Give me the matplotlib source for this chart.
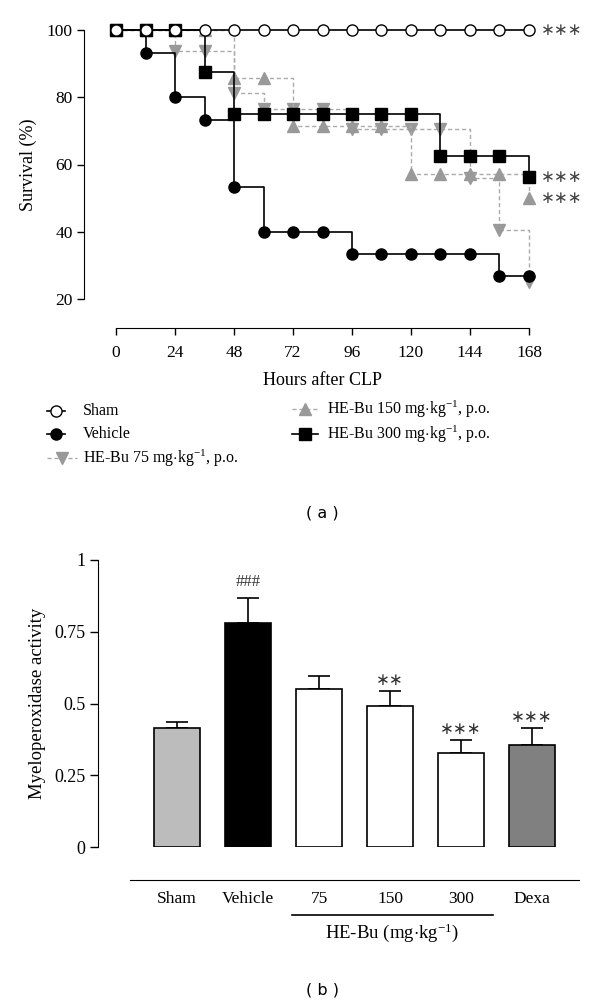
import matplotlib
matplotlib.use("Agg")
import matplotlib.pyplot as plt
from matplotlib.lines import Line2D

plt.rcParams['font.family'] = ['Liberation Serif', 'DejaVu Serif']
plt.rcParams['mathtext.fontset'] = 'custom'
plt.rcParams['mathtext.rm'] = 'Liberation Serif'
plt.rcParams['mathtext.it'] = 'Liberation Serif:italic'
plt.rcParams['font.size'] = 12.5

# ---- panel (a) data: survival (%) ----
hours = [0, 12, 24, 36, 48, 60, 72, 84, 96, 108, 120, 132, 144, 156, 168]
sham = [100, 100, 100, 100, 100, 100, 100, 100, 100, 100, 100, 100, 100, 100, 100]
vehicle = [100, 93.3, 80, 73.3, 53.3, 40, 40, 40, 33.3, 33.3, 33.3, 33.3, 33.3, 26.7, 26.7]
hebu75 = [100, 100, 93.8, 93.8, 81.3, 76.5, 76.5, 76.5, 70.6, 70.6, 70.6, 70.6, 55.9, 40.5, 25]
hebu150 = [100, 100, 100, 100, 85.7, 85.7, 71.4, 71.4, 71.4, 71.4, 57.1, 57.1, 57.1, 57.1, 50]
hebu300 = [100, 100, 100, 87.5, 75, 75, 75, 75, 75, 75, 75, 62.5, 62.5, 62.5, 56.3]
xticks_a = [0, 24, 48, 72, 96, 120, 144, 168]
yticks_a = [20, 40, 60, 80, 100]

# ---- panel (b) data: MPO activity ----
groups = ['Sham', 'Vehicle', '75', '150', '300', 'Dexa']
mpo = [0.413, 0.782, 0.552, 0.491, 0.329, 0.357]
mpo_err = [0.021, 0.084, 0.043, 0.053, 0.043, 0.056]
signif = ['', '###', '', '**', '***', '***']
bar_colors = ['#bcbcbc', 'black', 'white', 'white', 'white', '#808080']

fig = plt.figure(figsize=(6, 10.06), dpi=100)

gray = '#999999'
dash_gray = '#aaaaaa'

styles = {
    'Sham': dict(marker='o', mfc='white', mec='black', color='black', ls='-', ms=8),
    'Vehicle': dict(marker='o', mfc='black', mec='black', color='black', ls='-', ms=8),
    '75': dict(marker='v', mfc=gray, mec=gray, color=dash_gray, ls=(0, (3, 2)), ms=8.5),
    '150': dict(marker='^', mfc=gray, mec=gray, color=dash_gray, ls=(0, (3, 2)), ms=8.5),
    '300': dict(marker='s', mfc='black', mec='black', color='black', ls='-', ms=8),
}

ax1 = fig.add_axes([116 / 600, 1 - 299 / 1006, 413 / 600, 269 / 1006])
ax1.plot(hours, hebu75, drawstyle='steps-post', lw=1.0, clip_on=False, zorder=2, **styles['75'])
ax1.plot(hours, hebu150, drawstyle='steps-post', lw=1.0, clip_on=False, zorder=2, **styles['150'])
ax1.plot(hours, vehicle, drawstyle='steps-post', lw=1.2, clip_on=False, zorder=3, **styles['Vehicle'])
ax1.plot(hours, hebu300, drawstyle='steps-post', lw=1.2, clip_on=False, zorder=4, **styles['300'])
ax1.plot(hours, sham, drawstyle='steps-post', lw=1.2, clip_on=False, zorder=5, **styles['Sham'])

ax1.set_xlim(0, 168)
ax1.set_ylim(20, 100)
ax1.set_xticks(xticks_a)
ax1.set_yticks(yticks_a)
for s in ['top', 'right']:
    ax1.spines[s].set_visible(False)
ax1.spines['left'].set_position(('outward', 23))
ax1.spines['bottom'].set_position(('outward', 21))
ax1.spines['left'].set_bounds(20, 100)
ax1.spines['bottom'].set_bounds(0, 168)
ax1.tick_params(axis='y', direction='out', length=5, width=1, pad=3)
ax1.tick_params(axis='x', direction='out', length=5, width=1, pad=7)
ax1.set_xlabel('Hours after CLP', labelpad=8, fontsize=13)
ax1.set_ylabel('Survival (%)', labelpad=7, fontsize=13)

star_kw = dict(va='center', ha='left', color='#444444', fontsize=12, family='DejaVu Sans')
ax1.text(173, sham[-1], '∗∗∗', **star_kw)
ax1.text(173, hebu300[-1], '∗∗∗', **star_kw)
ax1.text(173, hebu150[-1], '∗∗∗', **star_kw)

# legend drawn in figure coords
unit = r'mg$\cdot$kg$^{-1}$'
entries = [
    ('Sham', 'Sham', 47, 65, 83, 411),
    ('Vehicle', 'Vehicle', 47, 65, 83, 434),
    ('75', 'HE-Bu 75 ' + unit + ', p.o.', 47, 77, 83, 458),
    ('150', 'HE-Bu 150 ' + unit + ', p.o.', 292, 318, 327, 409),
    ('300', 'HE-Bu 300 ' + unit + ', p.o.', 292, 318, 327, 434),
]
for key, label, x0, x1, xt, y in entries:
    st = dict(styles[key])
    yy = 1 - y / 1006
    xm = (x0 + x1) / 2 / 600
    ln = Line2D([x0 / 600, xm, x1 / 600], [yy, yy, yy], transform=fig.transFigure,
                markevery=[1], lw=1.0 if key in ('75', '150') else 1.2, **st)
    fig.add_artist(ln)
    fig.text(xt / 600, yy, label, va='center', ha='left', fontsize=11.5)

fig.text(322 / 600, 1 - 513 / 1006, '( a )', ha='center', va='center',
         family='DejaVu Sans', fontsize=11.5)

# ---- panel (b) ----
ax2 = fig.add_axes([130 / 600, 1 - 847 / 1006, 449 / 600, 287 / 1006])
xpos = list(range(len(groups)))
ax2.bar(xpos, mpo, width=0.66, color=bar_colors, edgecolor='black', linewidth=1.2, zorder=2)
ax2.errorbar(xpos, mpo, yerr=[[0] * len(mpo), mpo_err], fmt='none', ecolor='black',
             elinewidth=1.2, capsize=8, capthick=1.2, zorder=1)
for i, lab in enumerate(signif):
    if lab:
        top = mpo[i] + mpo_err[i]
        if lab.startswith('#'):
            ax2.annotate(lab, (i, top), xytext=(0, 12), textcoords='offset points',
                         ha='center', va='center', fontsize=12, color='#333333')
        else:
            ax2.annotate(lab.replace('*', '∗'), (i, top), xytext=(0, 8),
                         textcoords='offset points', ha='center', va='center',
                         fontsize=12, family='DejaVu Sans', color='#333333')

ax2.set_xlim(-0.662, 5.662)
ax2.set_ylim(0, 1)
ax2.set_yticks([0, 0.25, 0.5, 0.75, 1])
ax2.set_yticklabels(['0', '0.25', '0.5', '0.75', '1'])
ax2.set_xticks(xpos)
ax2.set_xticklabels(groups, fontsize=13)
for s in ['top', 'right']:
    ax2.spines[s].set_visible(False)
ax2.spines['left'].set_position(('outward', 23))
ax2.spines['left'].set_bounds(0, 1)
ax2.spines['bottom'].set_position(('outward', 24))
ax2.tick_params(axis='y', direction='out', length=6, width=1, pad=3, labelsize=13)
ax2.tick_params(axis='x', length=0, pad=8)
ax2.set_ylabel('Myeloperoxidase activity', labelpad=6, fontsize=13.5)

tr = ax2.get_xaxis_transform()
ax2.plot([1.62, 4.45], [-0.237, -0.237], color='black', lw=1.2, transform=tr, clip_on=False)
ax2.text(3.03, -0.30, 'HE-Bu (' + unit + ')', transform=tr, ha='center', va='center',
         fontsize=13.5)

fig.text(322 / 600, 1 - 990 / 1006, '( b )', ha='center', va='center',
         family='DejaVu Sans', fontsize=11.5)

fig.savefig('out.png', dpi=100)
